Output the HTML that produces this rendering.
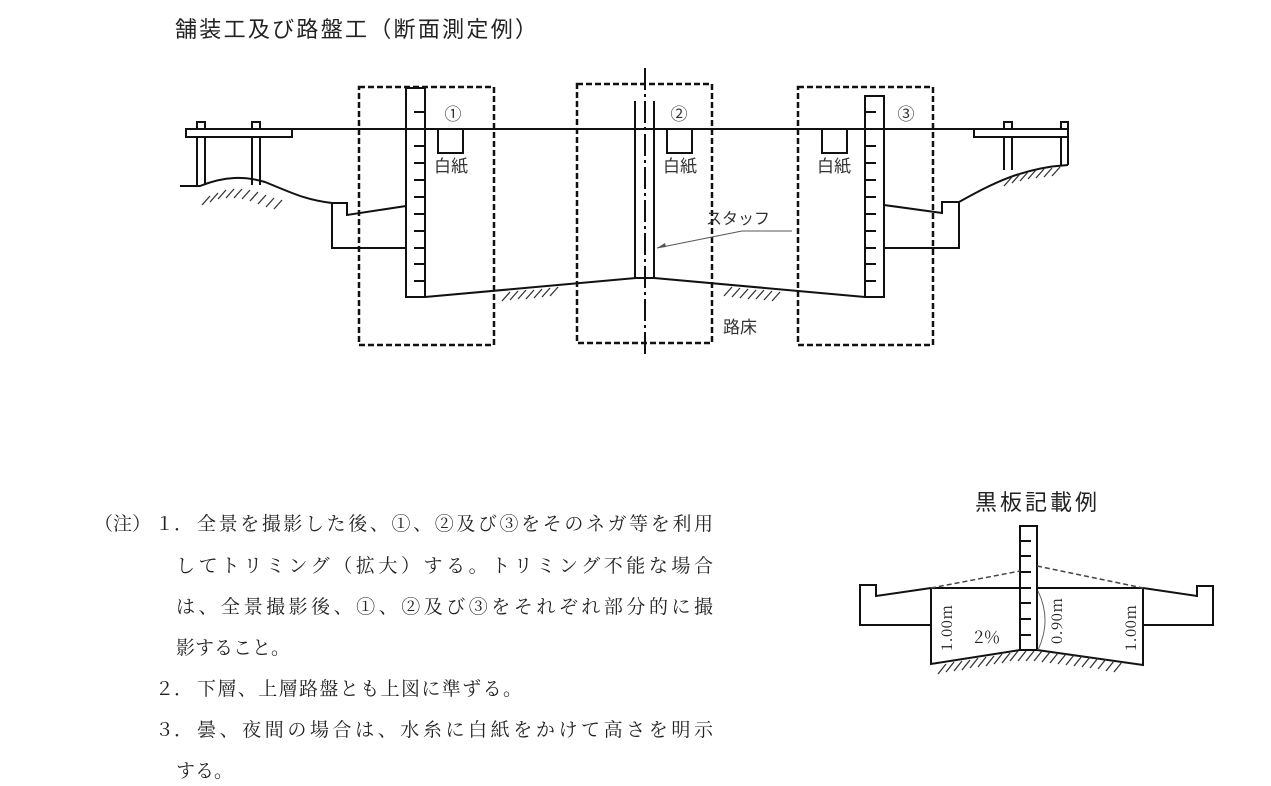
<!DOCTYPE html>
<html><head><meta charset="utf-8"><style>
html,body{margin:0;padding:0;background:#fff;}
svg{display:block;}
.s{font-family:"Liberation Sans","Noto Sans CJK JP",sans-serif;}
.m{font-family:"Noto Serif CJK SC",serif;}
</style></head><body>
<svg width="1271" height="786" viewBox="0 0 1271 786" xmlns="http://www.w3.org/2000/svg">
<text class="s" x="175" y="37" font-size="22" textLength="362" fill="#222">舗装工及び路盤工（断面測定例）</text>

<g fill="none" stroke="#111" stroke-width="2">
<line x1="292" y1="129" x2="974" y2="129"/>
<rect x="186" y="129" width="106" height="8" fill="#fff"/>
<rect x="197" y="122" width="8" height="7"/>
<rect x="252" y="122" width="8" height="7"/>
<line x1="197" y1="137" x2="197" y2="185"/><line x1="205" y1="137" x2="205" y2="185"/>
<line x1="252" y1="137" x2="252" y2="185"/><line x1="260" y1="137" x2="260" y2="185"/>
<path d="M180 186 L200 186 C225 176 245 176 265 182 C290 192 305 200 332 203 L347 203 L347 215 L406 206"/>
<path d="M332 203 L332 248 L406 248"/>
<rect x="406" y="88" width="19" height="209"/>
<path d="M425 297 L636 278 L654 278 L865 297"/>
<rect x="865" y="96" width="19" height="201"/>
<path d="M884 205 L942 213 L942 202 L959 202 L959 248 L884 248"/>
<path d="M959 202 C990 185 1020 168 1068 165"/>
<line x1="974" y1="129" x2="1068" y2="129"/>
<rect x="974" y="129" width="94" height="8" fill="#fff"/>
<rect x="1004" y="122" width="8" height="7"/>
<rect x="1061" y="122" width="7" height="7"/>
<line x1="1004" y1="137" x2="1004" y2="170"/><line x1="1012" y1="137" x2="1012" y2="170"/>
<line x1="1061" y1="137" x2="1061" y2="165"/><line x1="1068" y1="137" x2="1068" y2="165"/>
<line x1="635" y1="101" x2="635" y2="278"/>
<line x1="654" y1="101" x2="654" y2="278"/>
<path d="M438 129 V153 H463 V129"/>
<path d="M667 129 V153 H692 V129"/>
<path d="M822 129 V153 H847 V129"/>
</g>
<g stroke="#111" stroke-width="2">
<line x1="414" y1="112" x2="425" y2="112"/><line x1="414" y1="146" x2="425" y2="146"/><line x1="414" y1="163" x2="425" y2="163"/><line x1="414" y1="180" x2="425" y2="180"/><line x1="414" y1="197" x2="425" y2="197"/><line x1="414" y1="214" x2="425" y2="214"/><line x1="414" y1="231" x2="425" y2="231"/><line x1="414" y1="248" x2="425" y2="248"/><line x1="414" y1="264" x2="425" y2="264"/><line x1="414" y1="281" x2="425" y2="281"/>
<line x1="865" y1="112" x2="876" y2="112"/><line x1="865" y1="146" x2="876" y2="146"/><line x1="865" y1="163" x2="876" y2="163"/><line x1="865" y1="180" x2="876" y2="180"/><line x1="865" y1="197" x2="876" y2="197"/><line x1="865" y1="214" x2="876" y2="214"/><line x1="865" y1="231" x2="876" y2="231"/><line x1="865" y1="248" x2="876" y2="248"/><line x1="865" y1="264" x2="876" y2="264"/><line x1="865" y1="281" x2="876" y2="281"/>
</g>
<g fill="none" stroke="#111" stroke-width="2.5" stroke-dasharray="6,3">
<rect x="359" y="87" width="135" height="258"/>
<rect x="577" y="84" width="135" height="259"/>
<rect x="798" y="87" width="135" height="258"/>
</g>
<line x1="645" y1="68" x2="645" y2="357" stroke="#111" stroke-width="2" stroke-dasharray="22,4,3,4"/>
<g stroke="#333" stroke-width="1.3">
<path d="M210 196 l-8 9 M218 193 l-8 9 M226 190 l-8 9 M234 189 l-8 9 M242 189 l-8 9 M250 190 l-8 9 M258 192 l-8 9 M266 195 l-8 9 M274 198 l-8 9 M282 200 l-8 9"/>
<path d="M510 292 l-8 9 M518 291 l-8 9 M526 290 l-8 9 M534 290 l-8 9 M542 289 l-8 9 M550 288 l-8 9 M558 287 l-8 9"/>
<path d="M732 287 l-8 9 M740 288 l-8 9 M748 289 l-8 9 M756 290 l-8 9 M764 290 l-8 9 M772 291 l-8 9 M780 292 l-8 9"/>
<path d="M1012 177 l-8 9 M1020 174 l-8 9 M1028 172 l-8 9 M1036 170 l-8 9 M1044 169 l-8 9 M1052 168 l-8 9 M1060 167 l-8 9"/>
</g>
<g class="s" font-size="17" fill="#333" text-anchor="middle">
<text x="453" y="120">①</text><text x="679" y="120">②</text><text x="906" y="120">③</text>
<text x="451" y="172">白紙</text><text x="680" y="172">白紙</text><text x="834" y="172">白紙</text>
<text x="740" y="333">路床</text>
<text x="738" y="224" font-size="16">スタッフ</text>
</g>
<path d="M792 231 L742 231 L657 248" fill="none" stroke="#555" stroke-width="1"/>
<path d="M657 248 l8 -5 l1 4 z" fill="#555"/>

<g class="m" font-size="19" fill="#222">
<text x="94" y="530">（注）</text>
<text x="155" y="530">１．</text>
<text x="197" y="530" textLength="516">全景を撮影した後、①、②及び③をそのネガ等を利用</text>
<text x="176" y="572" textLength="537">してトリミング（拡大）する。トリミング不能な場合</text>
<text x="176" y="613" textLength="537">は、全景撮影後、①、②及び③をそれぞれ部分的に撮</text>
<text x="176" y="654">影すること。</text>
<text x="155" y="695">２．</text>
<text x="197" y="695" textLength="325">下層、上層路盤とも上図に準ずる。</text>
<text x="155" y="736">３．</text>
<text x="197" y="736" textLength="516">曇、夜間の場合は、水糸に白紙をかけて高さを明示</text>
<text x="176" y="777">する。</text>
</g>

<text class="s" x="1036" y="510" font-size="22" fill="#222" text-anchor="middle" textLength="122">黒板記載例</text>
<g fill="none" stroke="#111" stroke-width="2">
<path d="M931 588 L876 596 L876 585 L860 585 L860 625 L931 625"/>
<path d="M931 588 V664 L1020 650"/>
<line x1="931" y1="588" x2="1020" y2="588"/>
<line x1="1037" y1="588" x2="1143" y2="588"/>
<path d="M1143 588 L1197 596 L1197 586 L1213 586 L1213 625 L1143 625"/>
<path d="M1143 588 V665 L1037 650"/>
<rect x="1020" y="526" width="17" height="124" fill="#fff"/>
</g>
<g stroke="#111" stroke-width="2">
<line x1="1021" y1="541" x2="1031" y2="541"/><line x1="1021" y1="556" x2="1031" y2="556"/><line x1="1021" y1="572" x2="1031" y2="572"/><line x1="1021" y1="588" x2="1031" y2="588"/><line x1="1021" y1="603" x2="1031" y2="603"/><line x1="1021" y1="619" x2="1031" y2="619"/><line x1="1021" y1="635" x2="1031" y2="635"/>
</g>
<g stroke="#444" stroke-width="1.5" stroke-dasharray="5,3">
<line x1="931" y1="588" x2="1020" y2="571"/>
<line x1="1037" y1="566" x2="1143" y2="588"/>
</g>
<path d="M1038 591 Q1052 620 1038 650" fill="none" stroke="#666" stroke-width="1"/>
<g stroke="#333" stroke-width="1.3">
<path d="M946 664 l-8 10 M954 662 l-8 10 M962 661 l-8 10 M970 660 l-8 10 M978 658 l-8 10 M986 657 l-8 10 M994 656 l-8 10 M1002 654 l-8 10 M1010 653 l-8 10 M1018 651 l-8 10 M1026 651 l-8 10 M1034 651 l-8 10 M1042 651 l-8 10 M1050 652 l-8 10 M1058 653 l-8 10 M1066 654 l-8 10 M1074 655 l-8 10 M1082 656 l-8 10 M1090 657 l-8 10 M1098 658 l-8 10 M1106 659 l-8 10 M1114 661 l-8 10 M1122 662 l-8 10"/>
</g>
<g class="m" font-size="15" fill="#222">
<text transform="translate(952,651) rotate(-90)" textLength="46">1.00m</text>
<text x="974" y="643" font-size="17">2％</text>
<text transform="translate(1062,644) rotate(-90)" textLength="46">0.90m</text>
<text transform="translate(1136,651) rotate(-90)" textLength="46">1.00m</text>
</g>
</svg>
</body></html>
